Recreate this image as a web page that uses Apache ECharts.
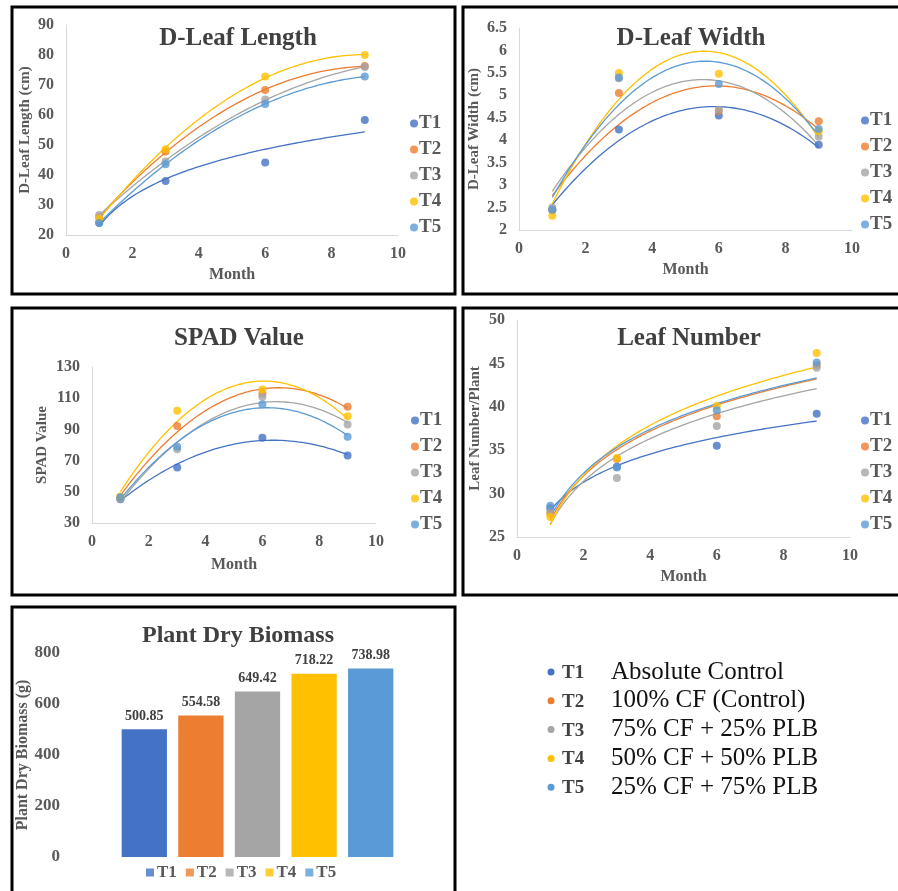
<!DOCTYPE html>
<html>
<head>
<meta charset="utf-8">
<script src="https://cdn.jsdelivr.net/npm/echarts@6/dist/echarts.min.js"></script>
<style>html,body{margin:0;padding:0;background:#fff}#c{width:898px;height:891px}</style>
</head>
<body>
<div id="c"></div>
<script>
// ---------- DATA ----------
const treatments = ['T1', 'T2', 'T3', 'T4', 'T5'];
const months = [1, 3, 6, 9];
const treatmentLabels = ['Absolute Control', '100% CF (Control)', '75% CF + 25% PLB', '50% CF + 50% PLB', '25% CF + 75% PLB'];

const leafLengthT1 = [24.1, 38.0, 44.2, 58.3];
const leafLengthT2 = [26.0, 47.8, 68.3, 76.3];
const leafLengthT3 = [26.7, 44.5, 65.2, 76.0];
const leafLengthT4 = [25.5, 48.6, 72.8, 80.0];
const leafLengthT5 = [24.0, 43.6, 63.7, 72.8];

const leafWidthT1 = [2.45, 4.24, 4.55, 3.90];
const leafWidthT2 = [2.45, 5.05, 4.65, 4.42];
const leafWidthT3 = [2.50, 5.38, 4.68, 4.08];
const leafWidthT4 = [2.32, 5.50, 5.48, 4.20];
const leafWidthT5 = [2.45, 5.40, 5.25, 4.25];

const spadT1 = [45.3, 65.5, 84.7, 73.2];
const spadT2 = [46.0, 92.1, 113.0, 104.5];
const spadT3 = [45.5, 77.2, 110.9, 93.2];
const spadT4 = [47.0, 101.9, 115.5, 98.5];
const spadT5 = [46.5, 78.9, 106.2, 85.3];

const leafNumT1 = [28.3, 33.1, 35.5, 39.2];
const leafNumT2 = [27.7, 34.0, 38.9, 44.8];
const leafNumT3 = [28.0, 31.8, 37.8, 44.5];
const leafNumT4 = [27.3, 34.1, 40.1, 46.2];
const leafNumT5 = [28.6, 33.0, 39.6, 45.1];

const biomass = [500.85, 554.58, 649.42, 718.22, 738.98];

const colors = ['#4472C4', '#ED7D31', '#A5A5A5', '#FFC000', '#5B9BD5'];

// ---------- trendline fitting (least squares on the data above) ----------
function solve3(A, b) {
  const M = A.map((r, i) => r.concat([b[i]]));
  for (let i = 0; i < 3; i++) {
    let p = i;
    for (let k = i + 1; k < 3; k++) if (Math.abs(M[k][i]) > Math.abs(M[p][i])) p = k;
    [M[i], M[p]] = [M[p], M[i]];
    for (let k = 0; k < 3; k++) {
      if (k === i) continue;
      const f = M[k][i] / M[i][i];
      for (let j = i; j < 4; j++) M[k][j] -= f * M[i][j];
    }
  }
  return [M[0][3] / M[0][0], M[1][3] / M[1][1], M[2][3] / M[2][2]];
}
function polyFit(xs, ys) {
  let s = [0, 0, 0, 0, 0], t = [0, 0, 0];
  xs.forEach((x, i) => {
    for (let k = 0; k < 5; k++) s[k] += Math.pow(x, k);
    for (let k = 0; k < 3; k++) t[k] += Math.pow(x, k) * ys[i];
  });
  const c = solve3([[s[0], s[1], s[2]], [s[1], s[2], s[3]], [s[2], s[3], s[4]]], t);
  return x => c[0] + c[1] * x + c[2] * x * x;
}
function logFit(xs, ys) {
  const n = xs.length;
  const lx = xs.map(Math.log);
  const mx = lx.reduce((a, b) => a + b, 0) / n, my = ys.reduce((a, b) => a + b, 0) / n;
  let sxy = 0, sxx = 0;
  lx.forEach((l, i) => { sxy += (l - mx) * (ys[i] - my); sxx += (l - mx) * (l - mx); });
  const b = sxy / sxx, a = my - b * mx;
  return x => a + b * Math.log(x);
}
function curve(fn) {
  const pts = [];
  for (let i = 0; i <= 80; i++) { const x = 1 + i * 0.1; pts.push([x, fn(x)]); }
  return pts;
}

// ---------- styling ----------
const FONT = 'Liberation Serif';
const TXT = '#595959';
const TITLE = '#404040';

const P = polyFit, L = logFit;
const panels = [
  { title: 'D-Leaf Length', yName: 'D-Leaf Length (cm)', data: [leafLengthT1, leafLengthT2, leafLengthT3, leafLengthT4, leafLengthT5], fits: [L, P, P, P, P],
    grid: { left: 66, top: 25, width: 332, height: 210 }, y: [20, 90, 10], titlePos: [233, 21], legend: [405, 109], yNameGap: 33, xNameGap: 32 },
  { title: 'D-Leaf Width', yName: 'D-Leaf Width (cm)', data: [leafWidthT1, leafWidthT2, leafWidthT3, leafWidthT4, leafWidthT5], fits: [P, P, P, P, P],
    grid: { left: 519, top: 28, width: 333, height: 202 }, y: [2, 6.5, 0.5], titlePos: [686, 21], legend: [856, 106], yNameGap: 37, xNameGap: 32 },
  { title: 'SPAD Value', yName: 'SPAD Value', data: [spadT1, spadT2, spadT3, spadT4, spadT5], fits: [P, P, P, P, P],
    grid: { left: 92, top: 367, width: 284, height: 156 }, y: [30, 130, 20], titlePos: [234, 321], legend: [406, 406], yNameGap: 42, xNameGap: 34 },
  { title: 'Leaf Number', yName: 'Leaf Number/Plant', data: [leafNumT1, leafNumT2, leafNumT3, leafNumT4, leafNumT5], fits: [L, L, L, L, L],
    grid: { left: 517, top: 320, width: 333, height: 217 }, y: [25, 50, 5], titlePos: [684, 321], legend: [856, 406], yNameGap: 34, xNameGap: 32 }
];

const grids = [], xAxes = [], yAxes = [], series = [], titles = [], legends = [];

panels.forEach((p, pi) => {
  grids.push(p.grid);
  titles.push({ text: p.title, left: p.titlePos[0], top: p.titlePos[1], textAlign: 'center',
    textStyle: { fontFamily: FONT, fontWeight: 'bold', fontSize: 25, color: TITLE } });
  xAxes.push({ type: 'value', gridIndex: pi, min: 0, max: 10, interval: 2,
    name: 'Month', nameLocation: 'middle', nameGap: p.xNameGap,
    nameTextStyle: { fontFamily: FONT, fontWeight: 'bold', fontSize: 16, color: TXT },
    axisLine: { show: true, lineStyle: { color: '#D9D9D9', width: 1 } }, axisTick: { show: false },
    splitLine: { show: false },
    axisLabel: { fontFamily: FONT, fontWeight: 'bold', fontSize: 16, color: TXT, margin: 11 } });
  yAxes.push({ type: 'value', gridIndex: pi, min: p.y[0], max: p.y[1], interval: p.y[2],
    name: p.yName, nameLocation: 'middle', nameGap: p.yNameGap,
    nameTextStyle: { fontFamily: FONT, fontWeight: 'bold', fontSize: 15, color: TXT },
    axisLine: { show: true, lineStyle: { color: '#D9D9D9', width: 1 } }, axisTick: { show: false },
    splitLine: { show: false },
    axisLabel: { fontFamily: FONT, fontWeight: 'bold', fontSize: 16, color: TXT, margin: 12 } });
  p.data.forEach((vals, si) => {
    const fn = p.fits[si](months, vals);
    series.push({ type: 'line', name: treatments[si] + ' trend', xAxisIndex: pi, yAxisIndex: pi,
      data: curve(fn), showSymbol: false, symbol: 'none', smooth: false, silent: true,
      lineStyle: { color: colors[si], width: 1.3 }, z: 2 });
  });
  p.data.forEach((vals, si) => {
    series.push({ type: 'scatter', name: treatments[si], xAxisIndex: pi, yAxisIndex: pi,
      data: months.map((m, i) => [m, vals[i]]), symbol: 'circle', symbolSize: 8,
      itemStyle: { color: colors[si] }, z: 3 });
  });
  legends.push({ data: treatments.map(t => ({ name: t, icon: 'circle' })), orient: 'vertical',
    left: p.legend[0], top: p.legend[1], itemWidth: 8, itemHeight: 8, itemGap: 7,
    selectedMode: false,
    textStyle: { fontFamily: FONT, fontWeight: 'bold', fontSize: 19, color: TXT, padding: [0, 0, 0, -4] } });
});

// ---------- bar panel ----------
const bi = panels.length;
grids.push({ left: 116, top: 653, width: 283, height: 204 });
titles.push({ text: 'Plant Dry Biomass', left: 233, top: 619, textAlign: 'center',
  textStyle: { fontFamily: FONT, fontWeight: 'bold', fontSize: 24, color: TITLE } });
xAxes.push({ type: 'category', gridIndex: bi, data: treatments,
  axisLine: { show: false }, axisTick: { show: false }, axisLabel: { show: false }, splitLine: { show: false } });
yAxes.push({ type: 'value', gridIndex: bi, min: 0, max: 800, interval: 200,
  name: 'Plant Dry Biomass (g)', nameLocation: 'middle', nameGap: 83,
  nameTextStyle: { fontFamily: FONT, fontWeight: 'bold', fontSize: 16, color: TXT },
  axisLine: { show: false }, axisTick: { show: false }, splitLine: { show: false },
  axisLabel: { fontFamily: FONT, fontWeight: 'bold', fontSize: 17, color: TXT, margin: 56 } });
treatments.forEach((t, i) => {
  series.push({ type: 'bar', name: t, xAxisIndex: bi, yAxisIndex: bi, stack: 'bio', barWidth: '80%',
    data: treatments.map((_, j) => j === i ? biomass[i] : '-'),
    itemStyle: { color: colors[i] },
    label: { show: true, position: 'top', distance: 6, fontFamily: FONT, fontWeight: 'bold', fontSize: 14, color: TITLE,
      formatter: v => v.value.toFixed(2) } });
});
legends.push({ data: treatments.map(t => ({ name: t, icon: 'rect' })), orient: 'horizontal',
  left: 141, top: 859, itemWidth: 8, itemHeight: 8, itemGap: 9, selectedMode: false,
  textStyle: { fontFamily: FONT, fontWeight: 'bold', fontSize: 17, color: TXT, padding: [0, 0, 0, -2] } });

// ---------- graphic: panel frames and treatment key ----------
const frames = [[12, 7, 443, 287], [463, 7, 450, 287], [12, 308, 443, 287], [463, 308, 450, 287], [12, 607, 443, 300]];
const graphics = frames.map(f => ({ type: 'rect', shape: { x: f[0], y: f[1], width: f[2], height: f[3] },
  style: { fill: 'none', stroke: '#000', lineWidth: 3 }, silent: true, z: 100 }));
treatments.forEach((t, i) => {
  const y = 672 + i * 28.8;
  graphics.push({ type: 'circle', shape: { cx: 551, cy: y, r: 3.5 }, style: { fill: colors[i] }, silent: true });
  graphics.push({ type: 'text', x: 562, y: y + 1, style: { text: t, font: 'bold 19px "Liberation Serif"', fontFamily: FONT, fontWeight: 'bold', fontSize: 19, fill: TITLE, textVerticalAlign: 'middle', verticalAlign: 'middle' }, silent: true });
  graphics.push({ type: 'text', x: 611, y: y, style: { text: treatmentLabels[i], font: '25px "Liberation Serif"', fontFamily: FONT, fontSize: 25, fill: '#111', textVerticalAlign: 'middle', verticalAlign: 'middle' }, silent: true });
});

const chart = echarts.init(document.getElementById('c'), null, { renderer: 'canvas' });
chart.setOption({
  backgroundColor: '#fff',
  animation: false,
  title: titles,
  grid: grids,
  xAxis: xAxes,
  yAxis: yAxes,
  legend: legends,
  series: series,
  graphic: graphics
});
</script>
</body>
</html>
